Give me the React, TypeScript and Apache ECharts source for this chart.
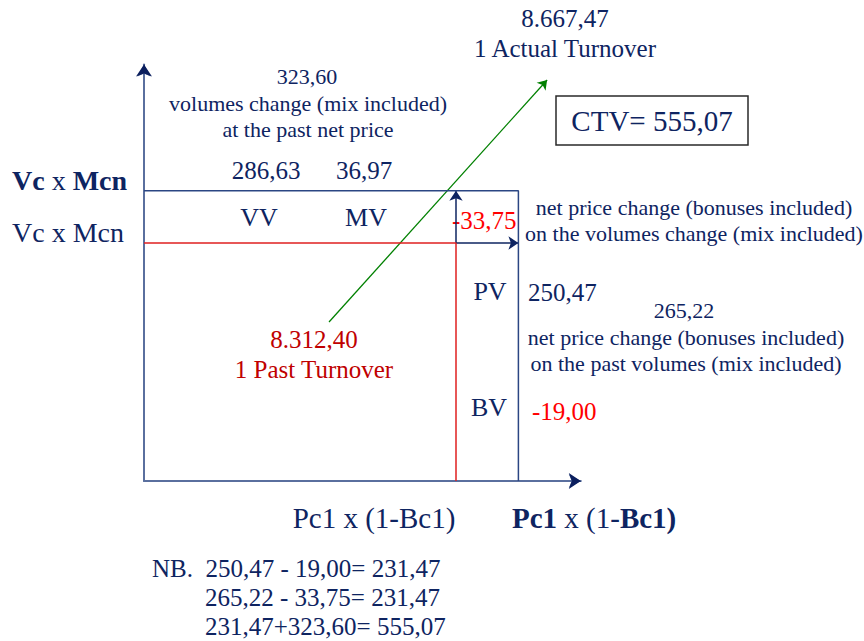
import React, { useEffect, useRef } from "react";
import * as echarts from "echarts";

// ---- Data ----
const turnoverLabels = ["1 Past Turnover", "1 Actual Turnover"];
const turnoverValues = [8312.4, 8667.47];
const volumeEffectKeys = ["VV", "MV"];
const volumeEffectValues = [286.63, 36.97];
const volumeChangeTotal = [323.6];
const priceEffectKeys = ["PV", "BV"];
const priceEffectValues = [250.47, -19.0];
const priceOnPastVolumesTotal = [265.22];
const priceOnVolumesChange = [-33.75];
const ctvValue = [555.07];
// schematic levels on the (price, volume) plane: [past, actual]
const priceLevels = [100, 120];
const volumeLevels = [100, 122];
const axisMax = [140, 175];
// schematic turnover points (past -> actual) for the arrow
const pastPoint = [59.3, 66.8];
const actualPoint = [129.2, 168.5];

const fmt = (v: number) => {
  const neg = v < 0;
  const [i, d] = Math.abs(v).toFixed(2).split(".");
  const ii = i.replace(/\B(?=(\d{3})+(?!\d))/g, ".");
  return (neg ? "-" : "") + ii + "," + d;
};

const FONT = "'Liberation Serif', 'Times New Roman', serif";
const NAVY = "#0E2461";
const RED = "#FF0000";
const DARKRED = "#C00000";

function txt(
  text: string,
  x: number,
  y: number,
  size: number,
  color: string,
  align: string = "center",
  extra: any = {}
) {
  return {
    type: "text",
    x,
    y,
    silent: true,
    style: {
      text,
      fontSize: size,
      fontFamily: FONT,
      fill: color,
      align,
      verticalAlign: "middle",
      textAlign: align,
      textVerticalAlign: "middle",
      ...extra,
    },
  };
}

export default function App() {
  const ref = useRef<HTMLDivElement>(null);

  useEffect(() => {
    if (!ref.current) return;
    const chart = echarts.init(ref.current, undefined, { renderer: "svg" });
    const kx = 3.12;
    const ky = 2.38;
    const gridH = axisMax[1] * ky;
    const gridW = axisMax[0] * kx;
    const originY = 481;

    const [pastP, actP] = priceLevels;
    const [pastV, actV] = volumeLevels;
    const pv = priceEffectValues[0];
    const bv = priceEffectValues[1];
    const net = pv + bv;

    const boldRich = {
      b: { fontWeight: "bold", fontFamily: FONT, fontSize: 28, fill: NAVY, color: NAVY },
      r: { fontFamily: FONT, fontSize: 28, fill: NAVY, color: NAVY },
    };
    const boldRich2 = {
      b: { fontWeight: "bold", fontFamily: FONT, fontSize: 29, fill: NAVY, color: NAVY },
      r: { fontFamily: FONT, fontSize: 29, fill: NAVY, color: NAVY },
    };

    const axisCommon = {
      type: "value",
      min: 0,
      axisLine: {
        show: true,
        onZero: false,
        lineStyle: { color: "#5A6F9E", width: 2 },
        symbol: ["none", "arrow"],
        symbolSize: [10, 12],
      },
      axisTick: { show: false },
      axisLabel: { show: false },
      splitLine: { show: false },
    };

    const option: any = {
      animation: false,
      backgroundColor: "#ffffff",
      grid: { left: 144, top: originY - gridH, width: gridW, height: gridH },
      xAxis: { ...axisCommon, max: axisMax[0] },
      yAxis: { ...axisCommon, max: axisMax[1] },
      series: [
        {
          type: "lines",
          coordinateSystem: "cartesian2d",
          clip: false,
          silent: true,
          symbol: ["none", "arrow"],
          symbolSize: [10, 12],
          lineStyle: { color: "#0B1F5E", width: 0.5, opacity: 1 },
          data: [
            { coords: [[axisMax[0] - 1, 0], [axisMax[0], 0]] },
            { coords: [[0, axisMax[1] - 1], [0, axisMax[1]]] },
          ],
        },
        {
          type: "line",
          silent: true,
          showSymbol: false,
          symbol: "none",
          clip: false,
          lineStyle: { color: "#2B4683", width: 1.5 },
          data: [
            [0, actV],
            [actP, actV],
            [actP, 0],
          ],
        },
        {
          type: "line",
          silent: true,
          showSymbol: false,
          symbol: "none",
          clip: false,
          lineStyle: { color: "#E02020", width: 1.5 },
          data: [
            [0, pastV],
            [pastP, pastV],
            [pastP, 0],
          ],
        },
        {
          type: "lines",
          coordinateSystem: "cartesian2d",
          clip: false,
          silent: true,
          symbol: ["none", "arrow"],
          symbolSize: 10,
          lineStyle: { color: NAVY, width: 1.5, opacity: 1 },
          data: [
            { coords: [[pastP, pastV], [pastP, actV]] },
            { coords: [[pastP, pastV], [actP, pastV]] },
          ],
        },
        {
          type: "lines",
          coordinateSystem: "cartesian2d",
          clip: false,
          silent: true,
          symbol: ["none", "arrow"],
          symbolSize: 9,
          lineStyle: { color: "#008000", width: 1.3, opacity: 1 },
          data: [{ coords: [pastPoint, actualPoint] }],
        },
      ],
      graphic: [
        txt(fmt(turnoverValues[1]), 565, 18, 25, NAVY),
        txt(turnoverLabels[1], 565, 48, 25, NAVY),
        txt(fmt(volumeChangeTotal[0]), 307, 76, 22, NAVY),
        txt("volumes change (mix included)", 308, 103, 22, NAVY),
        txt("at the past net price", 308, 129, 22, NAVY),
        txt(fmt(volumeEffectValues[0]), 266, 170, 25, NAVY),
        txt(fmt(volumeEffectValues[1]), 364, 170, 25, NAVY),
        txt("{b|Vc}{r| x }{b|Mcn}", 12, 180, 28, NAVY, "left", { rich: boldRich }),
        txt("Vc x Mcn", 12, 232, 28, NAVY, "left"),
        txt(volumeEffectKeys[0], 259, 217, 26, NAVY),
        txt(volumeEffectKeys[1], 366, 217, 26, NAVY),
        txt(fmt(priceOnVolumesChange[0]), 452, 220, 25, RED, "left"),
        txt("net price change (bonuses included)", 694, 207, 22, NAVY),
        txt("on the volumes change (mix included)", 694, 233, 22, NAVY),
        {
          type: "rect",
          silent: true,
          shape: { x: 556, y: 96, width: 192, height: 49 },
          style: { fill: "#ffffff", stroke: "#2a2a2a", lineWidth: 1.5 },
        },
        txt("CTV= " + fmt(ctvValue[0]), 652, 121, 29, NAVY),
        txt(priceEffectKeys[0], 490, 291, 26, NAVY),
        txt(fmt(pv), 528, 292, 25, NAVY, "left"),
        txt(fmt(priceOnPastVolumesTotal[0]), 684, 310, 22, NAVY),
        txt("net price change (bonuses included)", 686, 337, 22, NAVY),
        txt("on the past volumes (mix included)", 686, 363, 22, NAVY),
        txt(priceEffectKeys[1], 489, 407, 26, NAVY),
        txt(fmt(bv), 532, 411, 25, RED, "left"),
        txt(fmt(turnoverValues[0]), 314, 339, 25, DARKRED),
        txt(turnoverLabels[0], 314, 369, 25, DARKRED),
        txt("Pc1 x (1-Bc1)", 374, 518, 29, NAVY),
        txt("{b|Pc1}{r| x (1-}{b|Bc1)}", 512, 518, 29, NAVY, "left", { rich: boldRich2 }),
        txt(
          "NB.  " + fmt(pv) + " - " + fmt(-bv) + "= " + fmt(net),
          152,
          568,
          25,
          NAVY,
          "left"
        ),
        txt(
          fmt(priceOnPastVolumesTotal[0]) +
            " - " +
            fmt(-priceOnVolumesChange[0]) +
            "= " +
            fmt(priceOnPastVolumesTotal[0] + priceOnVolumesChange[0]),
          205,
          597,
          25,
          NAVY,
          "left"
        ),
        txt(
          fmt(net) + "+" + fmt(volumeChangeTotal[0]) + "= " + fmt(net + volumeChangeTotal[0]),
          205,
          626,
          25,
          NAVY,
          "left"
        ),
      ],
    };
    chart.setOption(option);
    return () => chart.dispose();
  }, []);

  return (
    <div
      ref={ref}
      style={{
        position: "fixed",
        left: 0,
        top: 0,
        width: 864,
        height: 641,
        background: "#ffffff",
      }}
    />
  );
}
